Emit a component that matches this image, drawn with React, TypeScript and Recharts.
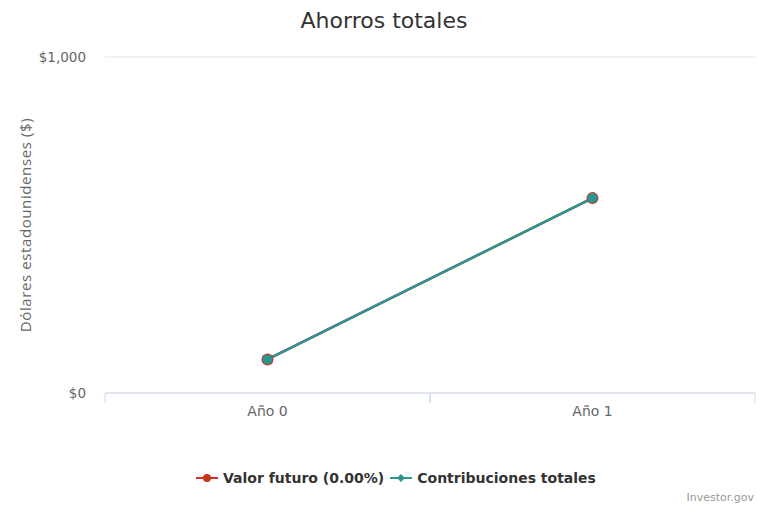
import React from 'react';
import { LineChart, Line, XAxis, YAxis, CartesianGrid } from 'recharts';

const categories = ['Año 0', 'Año 1'];
const valorFuturo = [100, 580];
const contribuciones = [100, 580];
const yTicks = [0, 1000];

const seriesNames = ['Valor futuro (0.00%)', 'Contribuciones totales'];
const colors = ['#c9341c', '#2b9591'];

const data = categories.map((c, i) => ({ cat: c, vf: valorFuturo[i], ct: contribuciones[i] }));

const W = 768;
const H = 512;
const X_H = 30;
const M = { top: 57, right: 13, bottom: 119 - X_H, left: 45 };
const Y_W = 60;
const plotW = W - M.left - Y_W - M.right;
const halfBand = plotW / categories.length / 2;

const FONT = '"DejaVu Sans", Verdana, sans-serif';

const fmt = (v: number) => '$' + v.toLocaleString('en-US');

const XTick = (props: any) => {
  const { x, y, payload } = props;
  return (
    <g>
      <line x1={x - halfBand} x2={x - halfBand} y1={y - 8} y2={y + 2} stroke="#ccd6eb" />
      <line x1={x + halfBand} x2={x + halfBand} y1={y - 8} y2={y + 2} stroke="#ccd6eb" />
      <text x={x} y={y + 15} textAnchor="middle" fill="#666" fontSize={14} fontFamily={FONT}>
        {payload.value}
      </text>
    </g>
  );
};

const LegendBlock = () => (
  <div style={{ position: 'absolute', top: 470, left: 12, width: W, display: 'flex', justifyContent: 'center', alignItems: 'center', fontFamily: FONT, fontWeight: 'bold', fontSize: 14, color: '#333' }}>
    {seriesNames.map((name, i) => (
      <div key={i} style={{ display: 'flex', alignItems: 'center', marginLeft: i ? 6 : 0 }}>
        <svg width={22} height={12} style={{ marginRight: 5 }}>
          <line x1={0} x2={22} y1={6} y2={6} stroke={colors[i]} strokeWidth={2} />
          {i === 0 ? (
            <circle cx={11} cy={6} r={4} fill={colors[i]} />
          ) : (
            <path d="M11 2 L15 6 L11 10 L7 6 Z" fill={colors[i]} />
          )}
        </svg>
        <span>{name}</span>
      </div>
    ))}
  </div>
);

export default function App() {
  return (
    <div style={{ position: 'absolute', left: 0, top: 0, width: W, height: H, background: '#fff' }}>
      <div style={{ position: 'absolute', top: 8, left: 0, width: W, textAlign: 'center', fontFamily: FONT, fontSize: 22, color: '#333' }}>
        Ahorros totales
      </div>
      <LineChart width={W} height={H} data={data} margin={M}>
        <CartesianGrid horizontal vertical={false} stroke="#e6e6e6" />
        <XAxis
          dataKey="cat"
          height={X_H}
          padding={{ left: halfBand, right: halfBand }}
          axisLine={{ stroke: '#ccd6eb' }}
          tickLine={false}
          tick={<XTick />}
          interval={0}
        />
        <YAxis
          width={Y_W}
          domain={[0, 1000]}
          ticks={yTicks}
          tickFormatter={fmt}
          axisLine={false}
          tickLine={false}
          tickSize={0}
          tickMargin={19}
          tick={{ fill: '#666', fontSize: 13.5, fontFamily: FONT }}
          label={{
            content: (p: any) => {
              const vb = p.viewBox;
              const cx = 27;
              const cy = vb.y + vb.height / 2;
              return (
                <text x={cx} y={cy} transform={`rotate(-90 ${cx} ${cy})`} textAnchor="middle" dominantBaseline="middle" fill="#666" fontSize={15} letterSpacing={0.6} fontFamily='"Open Sans", sans-serif'>
                  Dólares estadounidenses ($)
                </text>
              );
            },
          }}
        />
        <Line type="linear" dataKey="vf" name={seriesNames[0]} stroke={colors[0]} strokeWidth={2.5} dot={{ r: 6, fill: colors[0], stroke: 'none' }} isAnimationActive={false} />
        <Line type="linear" dataKey="ct" name={seriesNames[1]} stroke={colors[1]} strokeWidth={2.5} dot={{ r: 5, fill: colors[1], stroke: 'none' }} isAnimationActive={false} />
      </LineChart>
      <LegendBlock />
      <div style={{ position: 'absolute', top: 491, right: 14, fontFamily: FONT, fontSize: 11, color: '#999' }}>
        Investor.gov
      </div>
    </div>
  );
}
